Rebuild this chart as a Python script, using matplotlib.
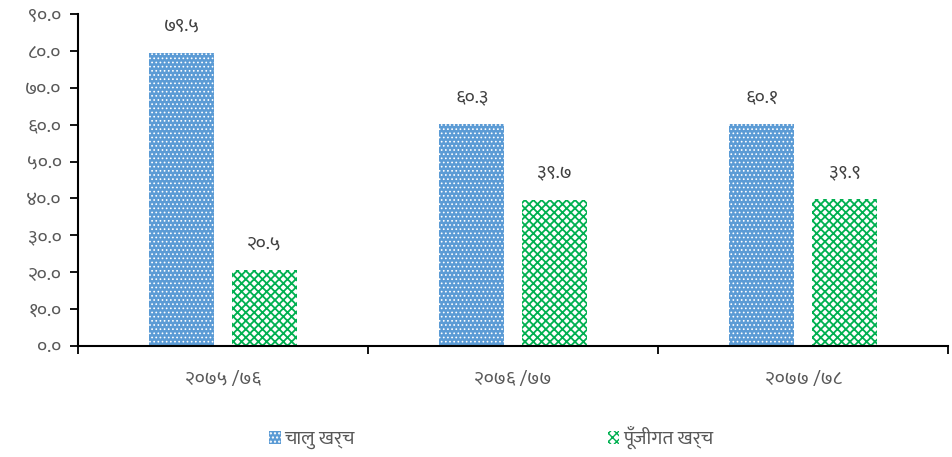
import matplotlib
matplotlib.use("Agg")
import os
import matplotlib.pyplot as plt
from matplotlib import font_manager as fm
from matplotlib.ticker import FuncFormatter, FixedLocator
import numpy as np

categories = ["२०७५ /७६", "२०७६ /७७", "२०७७ /७८"]
series_names = ["चालु खर्च", "पूँजीगत खर्च"]
current_exp = [79.5, 60.3, 60.1]
capital_exp = [20.5, 39.7, 39.9]
yticks = [0, 10, 20, 30, 40, 50, 60, 70, 80, 90]

# pick a Devanagari-capable font with Devanagari digit glyphs
prefs = ["Mukta-Regular", "Yantramanav-Regular", "Khula-Regular", "FreeSans"]
files = fm.findSystemFonts()
deva = None
for p in prefs:
    for f in files:
        if os.path.splitext(os.path.basename(f))[0] == p:
            fm.fontManager.addfont(f)
            deva = fm.FontProperties(fname=f).get_name()
            break
    if deva:
        break
fams = ([deva] if deva else []) + ["DejaVu Sans"]
plt.rcParams['font.family'] = fams

DIG = str.maketrans("0123456789", "०१२३४५६७८९")
def dev(s):
    return s.translate(DIG)

fig = plt.figure(figsize=(9.52, 4.57), dpi=100)
ax = fig.add_axes([0.082, 0.243, 0.914, 0.726])

x = np.arange(len(categories))
w = 0.224
off = 0.142
blue = "#5B9BD5"
green = "#00B050"
plt.rcParams['hatch.linewidth'] = 1.0
b1 = ax.bar(x - off, current_exp, w, facecolor=blue, edgecolor="white", linewidth=0, hatch="....", label=series_names[0])
b2 = ax.bar(x + off, capital_exp, w, facecolor="white", edgecolor=green, linewidth=0, hatch="xxxx", label=series_names[1])
try:
    for p in b1:
        p.set_hatch_linewidth(0.7)
    for p in b2:
        p.set_hatch_linewidth(1.3)
except AttributeError:
    pass

for bars, vals in ((b1, current_exp), (b2, capital_exp)):
    for r, v in zip(bars, vals):
        ax.annotate(dev(f"{v:.1f}"), (r.get_x() + r.get_width() / 2, v),
                    xytext=(0, 19), textcoords="offset points",
                    ha="center", va="center", fontsize=14, color="#404040")

ax.set_xlim(-0.5, 2.5)
ax.set_ylim(0, 90)
ax.set_yticks(yticks)
ax.yaxis.set_major_formatter(FuncFormatter(lambda v, p: dev(f"{v:.1f}")))
ax.xaxis.set_major_locator(FixedLocator([-0.5, 0.5, 1.5, 2.5]))
ax.xaxis.set_minor_locator(FixedLocator(x))
ax.set_xticklabels([], minor=False)
ax.set_xticklabels(categories, minor=True)
ax.tick_params(axis="x", which="major", length=6, width=1.3, color="black", direction="out")
ax.tick_params(axis="x", which="minor", length=0, pad=18, labelsize=14, labelcolor="#595959")
ax.tick_params(axis="y", length=6, width=1.3, color="black", direction="out", labelsize=14, labelcolor="#595959", pad=6)
for s in ("top", "right"):
    ax.spines[s].set_visible(False)
for s in ("left", "bottom"):
    ax.spines[s].set_linewidth(1.5)
    ax.spines[s].set_color("black")

leg = fig.legend(handles=[b1, b2], loc="center", bbox_to_anchor=(0.516, 0.042), ncol=2,
                 frameon=False, fontsize=14, columnspacing=13, handlelength=0.6,
                 handleheight=0.6, handletextpad=0.2, labelcolor="#595959")

fig.savefig("out.png", dpi=100)
